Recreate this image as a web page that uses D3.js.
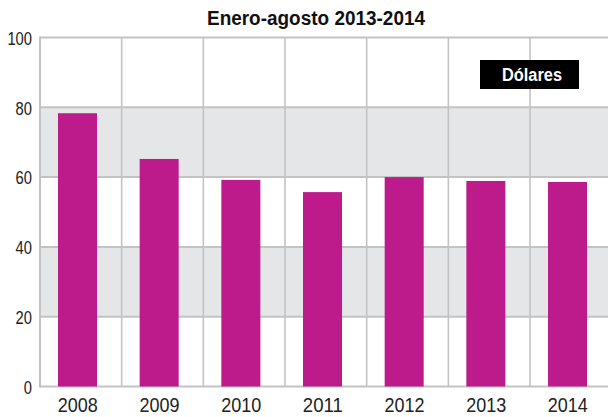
<!DOCTYPE html>
<html>
<head>
<meta charset="utf-8">
<script src="https://cdn.jsdelivr.net/npm/d3@7"></script>
<style>
  body { margin: 0; background: #fff; }
  svg { display: block; }
  text { font-family: "Liberation Sans", sans-serif; }
</style>
</head>
<body>
<div id="chart"></div>
<script>
const years = ['2008', '2009', '2010', '2011', '2012', '2013', '2014'];
const values = [78.3, 65.2, 59.2, 55.7, 60.0, 58.9, 58.6];
const yTicks = [0, 20, 40, 60, 80, 100];
const shadedBands = [[20, 40], [60, 80]];
const title = 'Enero-agosto 2013-2014';
const unitLabel = 'Dólares';

const width = 608, height = 417;
const plotLeft = 40, plotTop = 37.5, plotBottom = 386.5;
const step = 81.67;

let svg = d3.select('#chart').append('svg')
    .attr('width', width)
    .attr('height', height);

let x = d3.scaleBand()
    .domain(years)
    .range([plotLeft, plotLeft + step * years.length])
    .padding(0);

let y = d3.scaleLinear()
    .domain([0, 100])
    .range([plotBottom, plotTop]);

// shaded bands
svg.append('g').selectAll('rect')
    .data(shadedBands)
    .enter().append('rect')
    .attr('x', plotLeft)
    .attr('y', d => y(d[1]))
    .attr('width', width - plotLeft)
    .attr('height', d => y(d[0]) - y(d[1]))
    .attr('fill', '#e5e6e8');

// vertical grid at band edges
svg.append('g').selectAll('line')
    .data(years)
    .enter().append('line')
    .attr('x1', d => x(d)).attr('x2', d => x(d))
    .attr('y1', plotTop).attr('y2', plotBottom)
    .attr('stroke', '#c3c3c3')
    .attr('stroke-width', 1.6);

// horizontal grid
svg.append('g').selectAll('line')
    .data(yTicks)
    .enter().append('line')
    .attr('x1', plotLeft).attr('x2', width)
    .attr('y1', d => y(d)).attr('y2', d => y(d))
    .attr('stroke', '#c3c3c3')
    .attr('stroke-width', 2);

// bars
let barW = 39;
svg.append('g').selectAll('rect')
    .data(values)
    .enter().append('rect')
    .attr('x', (d, i) => x(years[i]) + 18)
    .attr('y', d => y(d))
    .attr('width', barW)
    .attr('height', d => plotBottom - y(d))
    .attr('fill', '#bd1a8c');

// y axis labels (condensed look via textLength)
let yAxis = d3.axisLeft(y)
    .tickValues(yTicks)
    .tickSize(0)
    .tickPadding(8);
let gy = svg.append('g')
    .attr('transform', 'translate(' + plotLeft + ',0)')
    .call(yAxis);
gy.select('.domain').remove();
gy.selectAll('text')
    .attr('font-family', '"Liberation Sans", sans-serif')
    .attr('font-size', 19)
    .attr('fill', '#222')
    .attr('dy', '0.36em')
    .attr('textLength', d => String(d).length * 8.2)
    .attr('lengthAdjust', 'spacingAndGlyphs');

// x axis labels
let xAxis = d3.axisBottom(x)
    .tickSize(0)
    .tickPadding(11)
    .offset(0);
let gx = svg.append('g')
    .attr('transform', 'translate(-3,' + plotBottom + ')')
    .call(xAxis);
gx.select('.domain').remove();
gx.selectAll('text')
    .attr('font-family', '"Liberation Sans", sans-serif')
    .attr('font-size', 21)
    .attr('fill', '#222')
    .attr('textLength', 40)
    .attr('lengthAdjust', 'spacingAndGlyphs');

// left axis line
svg.append('line')
    .attr('x1', plotLeft).attr('x2', plotLeft)
    .attr('y1', plotTop - 1).attr('y2', plotBottom + 1)
    .attr('stroke', '#c3c3c3')
    .attr('stroke-width', 2);

// title
svg.append('text')
    .attr('x', 316)
    .attr('y', 25)
    .attr('text-anchor', 'middle')
    .attr('font-size', 20)
    .attr('font-weight', 'bold')
    .attr('fill', '#111')
    .attr('textLength', 218)
    .attr('lengthAdjust', 'spacingAndGlyphs')
    .text(title);

// unit label box
svg.append('rect')
    .attr('x', 480).attr('y', 60)
    .attr('width', 99).attr('height', 29)
    .attr('fill', '#000');
svg.append('text')
    .attr('x', 532)
    .attr('y', 81)
    .attr('text-anchor', 'middle')
    .attr('font-size', 18)
    .attr('font-weight', 'bold')
    .attr('fill', '#fff')
    .attr('textLength', 60)
    .attr('lengthAdjust', 'spacingAndGlyphs')
    .text(unitLabel);
</script>
</body>
</html>
